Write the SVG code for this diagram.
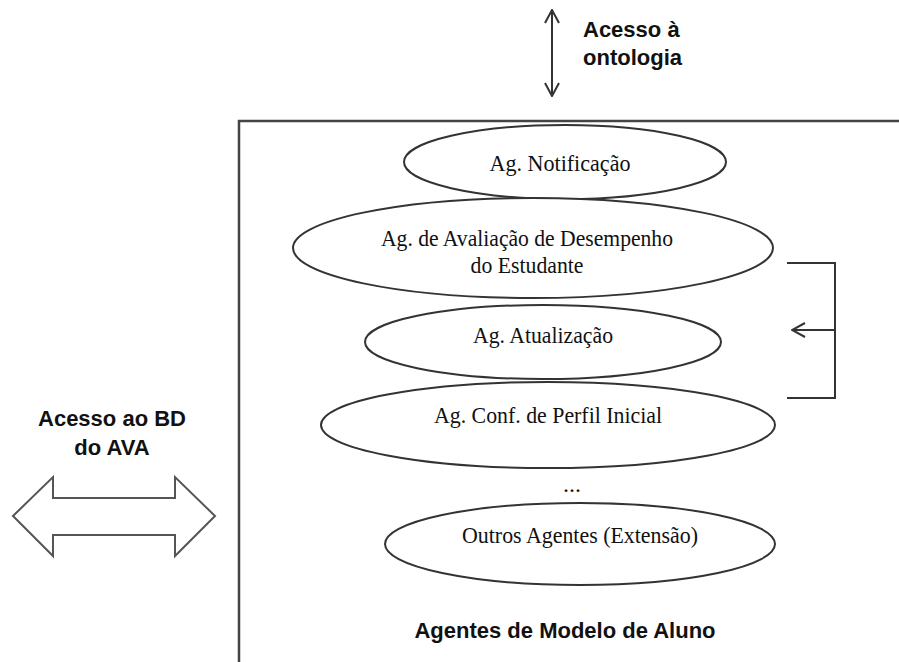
<svg xmlns="http://www.w3.org/2000/svg" width="899" height="662" viewBox="0 0 899 662">
<defs>
<marker id="open" viewBox="0 0 16 16" refX="15" refY="8" markerWidth="16" markerHeight="16" markerUnits="userSpaceOnUse" orient="auto-start-reverse">
<path d="M2 1 L15 8 L2 15" fill="none" stroke="#333" stroke-width="2"/>
</marker>
</defs>
<style>
.ell{fill:#fff;stroke:#333;stroke-width:2}
.t{font-family:"Liberation Serif","Times New Roman",serif;font-size:24px;fill:#111;text-anchor:middle}
.b{font-family:"Liberation Sans",Arial,sans-serif;font-size:22px;font-weight:bold;fill:#111}
.ln{fill:none;stroke:#333;stroke-width:2}
</style>
<rect width="899" height="662" fill="#fff"/>
<g id="container">
<path d="M239 662 V121 H899" fill="none" stroke="#444" stroke-width="2.5"/>
<text class="b" x="565" y="638" text-anchor="middle">Agentes de Modelo de Aluno</text>
</g>
<g id="ag-notificacao">
<ellipse class="ell" cx="565" cy="162" rx="161" ry="37"/>
<text class="t" x="560" y="171" textLength="141" lengthAdjust="spacingAndGlyphs">Ag. Notificação</text>
</g>
<g id="ag-avaliacao">
<ellipse class="ell" cx="533" cy="248" rx="240" ry="50"/>
<text class="t" x="527" y="246" textLength="292" lengthAdjust="spacingAndGlyphs">Ag. de Avaliação de Desempenho</text>
<text class="t" x="527" y="273" textLength="113" lengthAdjust="spacingAndGlyphs">do Estudante</text>
</g>
<g id="ag-atualizacao">
<ellipse class="ell" cx="543" cy="342" rx="178" ry="37"/>
<text class="t" x="543" y="343" textLength="140" lengthAdjust="spacingAndGlyphs">Ag. Atualização</text>
</g>
<g id="ag-conf-perfil">
<ellipse class="ell" cx="548" cy="425" rx="227" ry="43"/>
<text class="t" x="548" y="423" textLength="228" lengthAdjust="spacingAndGlyphs">Ag. Conf. de Perfil Inicial</text>
</g>
<text class="t" x="572" y="492" font-size="18">...</text>
<g id="outros-agentes">
<ellipse class="ell" cx="580" cy="544" rx="195" ry="41"/>
<text class="t" x="580" y="543" textLength="236" lengthAdjust="spacingAndGlyphs">Outros Agentes (Extensão)</text>
</g>
<g id="ontologia">
<text class="b" x="583" y="37">Acesso à</text>
<text class="b" x="583" y="65">ontologia</text>
</g>
<g id="bd-ava">
<text class="b" x="112" y="426" text-anchor="middle">Acesso ao BD</text>
<text class="b" x="112" y="455" text-anchor="middle">do AVA</text>
<polygon points="13,516 53,477 53,498 175,498 175,477 215,516 175,556 175,535 53,535 53,556" fill="#fff" stroke="#555" stroke-width="2" stroke-linejoin="miter"/>
</g>
<g id="connectors">
<line class="ln" x1="552" y1="10" x2="552" y2="96" marker-start="url(#open)" marker-end="url(#open)"/>
<path class="ln" d="M787 263 H835 V398 H787"/>
<line class="ln" x1="835" y1="330" x2="792" y2="330" marker-end="url(#open)"/>
</g>
</svg>
